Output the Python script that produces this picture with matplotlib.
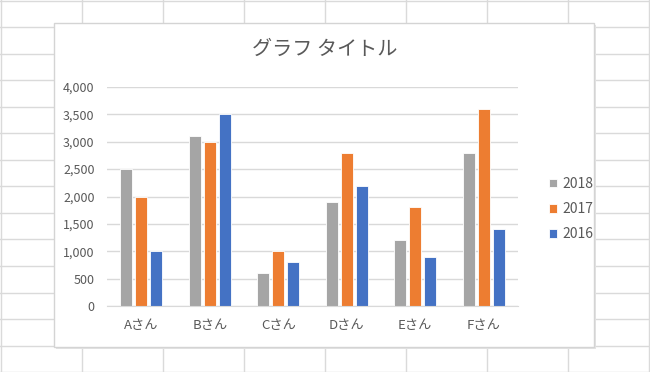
import matplotlib.pyplot as plt
import numpy as np
from matplotlib.patches import Rectangle

plt.rcParams['font.family'] = ['Noto Sans CJK JP', 'DejaVu Sans']

categories = ['Aさん', 'Bさん', 'Cさん', 'Dさん', 'Eさん', 'Fさん']
series_names = ['2018', '2017', '2016']
values_2018 = [2500, 3100, 600, 1900, 1200, 2800]
values_2017 = [2000, 3000, 1000, 2800, 1800, 3600]
values_2016 = [1000, 3500, 800, 2200, 900, 1400]
colors = ['#A5A5A5', '#ED7D31', '#4472C4']
y_ticks = [0, 500, 1000, 1500, 2000, 2500, 3000, 3500, 4000]

W, H = 650, 372
fig = plt.figure(figsize=(W / 100, H / 100), dpi=100)
fig.patch.set_facecolor('white')

# spreadsheet background (cell grid) in pixel coords
bg = fig.add_axes([0, 0, 1, 1])
bg.set_xlim(0, W)
bg.set_ylim(H, 0)
bg.axis('off')
for x in np.arange(1, W + 1, 81.0):
    bg.axvline(x, color='#DADADA', lw=1, zorder=0)
for y in np.arange(0.5, H + 1, 26.55):
    bg.axhline(y, color='#DADADA', lw=1, zorder=0)
# chart area
bg.add_patch(Rectangle((55.5, 24.5), 540, 324, facecolor='#E4E4E4', edgecolor='none', zorder=2))
bg.add_patch(Rectangle((54, 23), 540, 324, facecolor='white', edgecolor='#D4D4D4', lw=1, zorder=3))

# plot area
left, right, top, bottom = 107, 518, 87, 306
ax = fig.add_axes([left / W, (H - bottom) / H, (right - left) / W, (bottom - top) / H])
ax.set_facecolor('none')

x = np.arange(len(categories))
w = 0.168
step = 0.219
for i, (name, vals) in enumerate(zip(series_names, [values_2018, values_2017, values_2016])):
    ax.bar(x + (i - 1) * step, vals, width=w, color=colors[i], label=name,
           edgecolor='white', linewidth=0.6, zorder=3)

ax.set_xlim(-0.5, len(categories) - 0.5)
ax.set_ylim(0, 4000)
ax.set_yticks(y_ticks)
ax.set_yticklabels([f'{v:,}' for v in y_ticks])
ax.set_xticks(x)
ax.set_xticklabels(categories)
ax.grid(axis='y', color='#D9D9D9', lw=1, zorder=0)
for s in ['top', 'right', 'left']:
    ax.spines[s].set_visible(False)
ax.spines['bottom'].set_color('#D9D9D9')
ax.spines['bottom'].set_zorder(4)
ax.tick_params(axis='both', length=0, labelsize=9, labelcolor='#595959')
ax.tick_params(axis='y', pad=9)
ax.tick_params(axis='x', pad=9, labelsize=9.5)

fig.text(325 / W, 1 - 49 / H, 'グラフ タイトル', ha='center', va='center',
         fontsize=14.5, color='#595959')

fig.legend(loc='center left', bbox_to_anchor=(536 / W, 1 - 209 / H), frameon=False,
           fontsize=10, labelcolor='#595959', handlelength=0.6, handleheight=0.6,
           handletextpad=0.4, labelspacing=0.8)

fig.savefig('out.png', dpi=100)
